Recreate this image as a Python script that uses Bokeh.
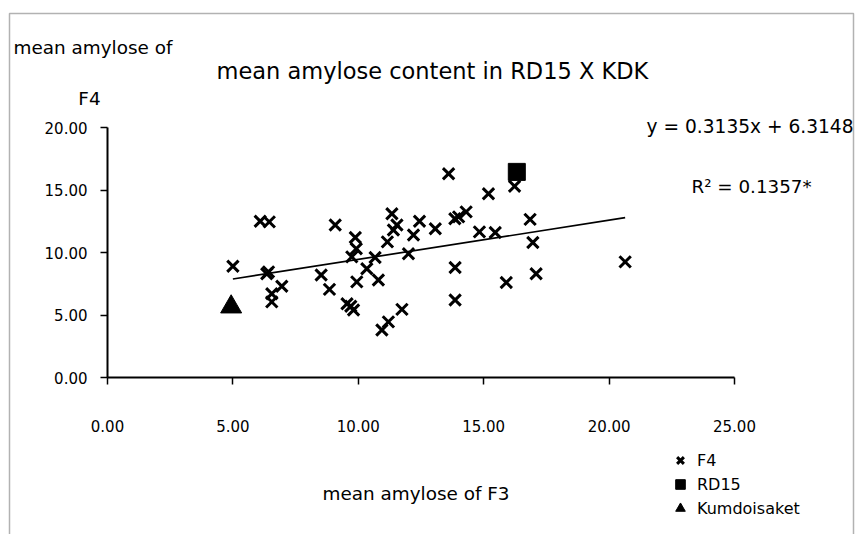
from bokeh.plotting import figure
from bokeh.models import (LinearAxis, Range1d, FixedTicker, PrintfTickFormatter,
                          Label, Legend, LegendItem, PolyAnnotation)
from bokeh.embed import file_html
from bokeh.resources import INLINE

# ---- data ----
f3_values = [5.00, 6.09, 6.45, 6.42, 6.35, 6.95, 6.55, 6.55, 9.08, 8.52,
             8.85, 9.55, 9.81, 9.70, 9.88, 9.92, 9.74, 10.34, 9.94, 10.67,
             10.80, 11.34, 11.40, 11.16, 11.20, 10.94, 13.60, 16.23, 15.19, 11.54,
             12.44, 12.20, 13.07, 12.00, 14.00, 14.30, 13.85, 14.83, 15.46, 16.85,
             16.96, 13.86, 17.09, 15.90, 13.86, 20.64, 11.74]
f4_values = [8.90, 12.50, 12.45, 8.45, 8.30, 7.30, 6.70, 6.05, 12.20, 8.20,
             7.05, 5.90, 5.40, 5.70, 11.20, 10.30, 9.65, 8.70, 7.65, 9.60,
             7.80, 13.10, 11.80, 10.85, 4.45, 3.80, 16.30, 15.30, 14.70, 12.20,
             12.50, 11.40, 11.90, 9.90, 12.85, 13.25, 12.70, 11.65, 11.60, 12.65,
             10.80, 8.80, 8.30, 7.60, 6.20, 9.25, 5.45]
rd15_f3 = [16.32]
rd15_f4 = [16.45]
kdk_f3 = [4.93]
kdk_f4 = [5.65]
slope = 0.3135
intercept = 6.3148
r_squared = "0.1357*"
x_ticks = [0, 5, 10, 15, 20, 25]
y_ticks = [0, 5, 10, 15, 20]

# ---- page geometry (pixels) ----
W, H = 855, 534
X0, X25 = 107, 734
Y0, Y20 = 377, 127
SX = (X25 - X0) / 25.0
SY = (Y0 - Y20) / 20.0


def dx(px):
    return (px - X0) / SX


def dy(py):
    return (Y0 - py) / SY


FONT = "DejaVu Sans"

p = figure(width=W, height=H, x_range=Range1d(dx(0), dx(W)), y_range=Range1d(dy(H), dy(0)),
           min_border=0, toolbar_location=None, output_backend="svg",
           x_axis_type=None, y_axis_type=None, title=None)
p.outline_line_color = None
p.background_fill_color = "white"
p.border_fill_color = "white"

xa = LinearAxis(fixed_location=0, bounds=(0, 25), ticker=FixedTicker(ticks=x_ticks),
                formatter=PrintfTickFormatter(format="%.2f"),
                major_tick_in=0, major_tick_out=7, minor_tick_in=0, minor_tick_out=0,
                major_label_standoff=35, axis_line_width=2, axis_line_color="black",
                major_tick_line_width=1.5, major_tick_line_color="black",
                major_label_text_font=FONT, major_label_text_font_size="15px",
                major_label_text_color="black")
p.add_layout(xa, "below")
ya = LinearAxis(fixed_location=0, bounds=(0, 20), ticker=FixedTicker(ticks=y_ticks),
                formatter=PrintfTickFormatter(format="%.2f"),
                major_tick_in=0, major_tick_out=7, minor_tick_in=0, minor_tick_out=0,
                major_label_standoff=13, axis_line_width=2, axis_line_color="black",
                major_tick_line_width=1.5, major_tick_line_color="black",
                major_label_text_font=FONT, major_label_text_font_size="15px",
                major_label_text_color="black")
p.add_layout(ya, "left")

# trend line
tx = [min(f3_values), max(f3_values)]
ty = [slope * v + intercept for v in tx]
p.line(tx, ty, line_color="black", line_width=1.7)

r_f4 = p.scatter(f3_values, f4_values, marker="x", size=16, line_width=3, color="black")
r_rd = p.scatter(rd15_f3, rd15_f4, marker="square", size=17, color="black")
r_kdk = p.scatter(kdk_f3, kdk_f4, marker="triangle", size=21, color="black")

legend = Legend(items=[LegendItem(label="F4", renderers=[r_f4]),
                       LegendItem(label="RD15", renderers=[r_rd]),
                       LegendItem(label="Kumdoisaket", renderers=[r_kdk])],
                location=(668, 14), glyph_width=24, glyph_height=24, label_height=24,
                spacing=0, padding=0, margin=0, label_standoff=5,
                border_line_color=None, background_fill_alpha=0,
                label_text_font=FONT, label_text_font_size="16px", label_text_color="black")
p.add_layout(legend, "center")

# frame of the page
p.add_layout(PolyAnnotation(xs=[dx(9), dx(9), dx(853), dx(853)],
                            ys=[dy(600), dy(13), dy(13), dy(600)],
                            fill_alpha=0, line_color="black", line_width=1.5))


def add_text(px, py, txt, size, align="left"):
    p.add_layout(Label(x=dx(px), y=dy(py), text=txt, text_font=FONT, text_font_size=size,
                       text_baseline="middle", text_align=align, text_color="black"))


add_text(216, 70, "mean amylose content in RD15 X KDK", "22.5px")
add_text(13, 47, "mean amylose of", "18.4px")
add_text(89, 98, "F4", "18.4px", "center")
add_text(853, 126, f"y = {slope:.4f}x + {intercept:.4f}", "18.6px", "right")
add_text(691, 186, f"R\u00b2 = {r_squared}", "18.3px")
add_text(322, 493, "mean amylose of F3", "18.4px")

open("out.html", "w").write(file_html(p, INLINE))
